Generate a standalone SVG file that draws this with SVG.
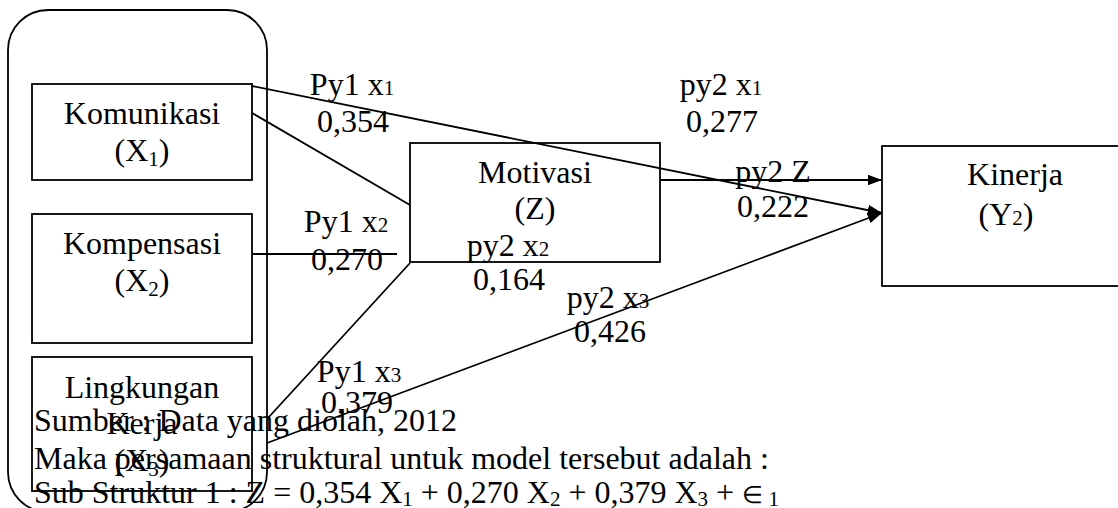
<svg xmlns="http://www.w3.org/2000/svg" width="1118" height="508" viewBox="0 0 1118 508">
<style>
text{font-family:"Liberation Serif","Times New Roman",serif;font-size:32px;fill:#000}
.c{text-anchor:middle}
.s{font-size:21px}
.e{font-size:24px}
.box{fill:none;stroke:#000;stroke-width:1.8}
.ln{fill:none;stroke:#000;stroke-width:1.8}
</style>
<defs>
<marker id="ah" markerWidth="8" markerHeight="6" refX="8" refY="3" orient="auto" markerUnits="strokeWidth">
<path d="M0,0 L8,3 L0,6 Z" fill="#000"/>
</marker>
</defs>
<rect width="1118" height="508" fill="#fff"/>
<g id="group-x">
<rect class="box" x="8" y="10" width="259" height="502" rx="40" ry="40"/>
</g>
<g id="connectors">
<line class="ln" x1="252" y1="86" x2="882" y2="213" marker-end="url(#ah)"/>
<line class="ln" x1="252" y1="113" x2="410" y2="205"/>
<line class="ln" x1="252" y1="254" x2="397" y2="254"/>
<line class="ln" x1="268" y1="418" x2="410" y2="263"/>
<line class="ln" x1="267" y1="443" x2="882" y2="213" marker-end="url(#ah)"/>
<line class="ln" x1="660" y1="180" x2="882" y2="180" marker-end="url(#ah)"/>
</g>
<g id="x1">
<rect class="box" x="32" y="84" width="220" height="96"/>
<text class="c" x="142" y="124">Komunikasi</text>
<text class="c" x="142" y="161">(X<tspan class="s" dy="5">1</tspan><tspan dy="-5">)</tspan></text>
</g>
<g id="x2">
<rect class="box" x="32" y="214" width="220" height="129"/>
<text class="c" x="142" y="254">Kompensasi</text>
<text class="c" x="142" y="291">(X<tspan class="s" dy="5">2</tspan><tspan dy="-5">)</tspan></text>
</g>
<g id="x3">
<rect class="box" x="32" y="357" width="220" height="134"/>
<text class="c" x="142" y="398">Lingkungan</text>
<text class="c" x="142" y="434">Kerja</text>
<text class="c" x="142" y="471">(X<tspan class="s" dy="5">3</tspan><tspan dy="-5">)</tspan></text>
</g>
<g id="z">
<rect class="box" x="410" y="143" width="250" height="119"/>
<text class="c" x="535" y="183">Motivasi</text>
<text class="c" x="535" y="219">(Z)</text>
</g>
<g id="y2">
<rect class="box" x="882" y="146" width="250" height="140"/>
<text class="c" x="1015" y="185">Kinerja</text>
<text class="c" x="1006" y="225">(Y<tspan class="s">2</tspan>)</text>
</g>
<g id="labels">
<text class="c" x="352" y="95">Py1 x<tspan class="s">1</tspan></text>
<text class="c" x="353" y="132">0,354</text>
<text class="c" x="721" y="95">py2 x<tspan class="s">1</tspan></text>
<text class="c" x="722" y="132">0,277</text>
<text class="c" x="773" y="182">py2 Z</text>
<text class="c" x="773" y="217">0,222</text>
<text class="c" x="346" y="232">Py1 x<tspan class="s">2</tspan></text>
<text class="c" x="347" y="270">0,270</text>
<text class="c" x="508" y="256">py2 x<tspan class="s">2</tspan></text>
<text class="c" x="509" y="290">0,164</text>
<text class="c" x="608" y="308">py2 x<tspan class="s">3</tspan></text>
<text class="c" x="610" y="342">0,426</text>
<text class="c" x="359" y="382">Py1 x<tspan class="s">3</tspan></text>
<text class="c" x="357" y="413">0,379</text>
</g>
<g id="notes">
<text x="34" y="431">Sumber : Data yang diolah, 2012</text>
<text x="34" y="469">Maka persamaan struktural untuk model tersebut adalah :</text>
<text x="34" y="503">Sub Struktur 1 : Z = 0,354 X<tspan class="s" dy="3">1</tspan><tspan dy="-3"> + 0,270 X</tspan><tspan class="s" dy="3">2</tspan><tspan dy="-3"> + 0,379 X</tspan><tspan class="s" dy="3">3</tspan><tspan dy="-3"> + </tspan><tspan class="e">∈</tspan><tspan class="s" dy="3"> 1</tspan></text>
</g>
</svg>
